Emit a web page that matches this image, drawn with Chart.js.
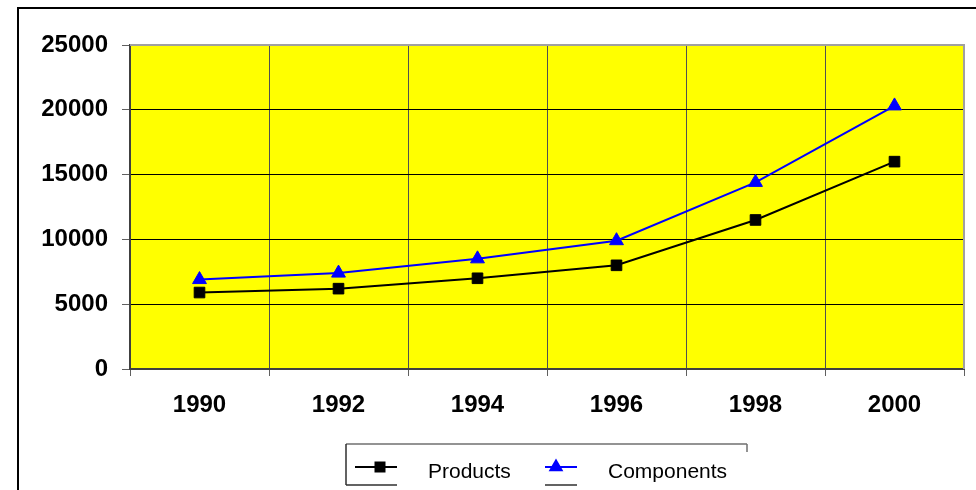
<!DOCTYPE html>
<html>
<head>
<meta charset="utf-8">
<script src="https://cdn.jsdelivr.net/npm/chart.js@4"></script>
<style>
  html, body { margin: 0; padding: 0; background: #fff; }
  canvas { display: block; }
</style>
</head>
<body>
<canvas id="c" width="976" height="490"></canvas>
<script>
// Annual volumes, 1990–2000
const years = ['1990', '1992', '1994', '1996', '1998', '2000'];
const products = [5900, 6200, 7000, 8000, 11500, 16000];
const components = [6900, 7400, 8500, 9900, 14400, 20300];
const yTicks = [0, 5000, 10000, 15000, 20000, 25000];

const tickFont = { family: '"Liberation Sans", Arial, sans-serif', size: 24, weight: 'bold' };

// Yellow plot background, grey plot frame and the outer chart frame
const frame = {
  id: 'frame',
  beforeDraw(chart) {
    const { ctx, chartArea: a } = chart;
    ctx.save();
    ctx.fillStyle = '#ffffff';
    ctx.fillRect(0, 0, chart.width, chart.height);
    ctx.strokeStyle = '#000';
    ctx.lineWidth = 2;
    ctx.strokeRect(18, 8, 2000, 2000);
    ctx.fillStyle = '#ffff00';
    ctx.fillRect(a.left, a.top, a.right - a.left, a.bottom - a.top);
    ctx.restore();
  },
  beforeDatasetsDraw(chart) {
    const { ctx, chartArea: a } = chart;
    ctx.save();
    ctx.strokeStyle = '#a0a0a0';
    ctx.lineWidth = 2;
    ctx.beginPath();
    ctx.moveTo(a.left, a.top);
    ctx.lineTo(a.right, a.top);
    ctx.lineTo(a.right, a.bottom);
    ctx.stroke();
    ctx.restore();
  }
};

// Legend box below the plot, with line + marker samples
const legendBox = {
  id: 'legendBox',
  afterDraw(chart) {
    const { ctx } = chart;
    ctx.save();
    ctx.lineWidth = 1.5;
    ctx.strokeStyle = '#707070';
    ctx.beginPath();
    ctx.moveTo(346, 444); ctx.lineTo(747, 444);
    ctx.moveTo(747, 444); ctx.lineTo(747, 452);
    ctx.stroke();
    ctx.strokeStyle = '#303030';
    ctx.beginPath();
    ctx.moveTo(346, 444); ctx.lineTo(346, 485);
    ctx.moveTo(346, 485); ctx.lineTo(397, 485);
    ctx.moveTo(545, 485); ctx.lineTo(577, 485);
    ctx.stroke();

    const entries = [
      { ds: chart.data.datasets[0], x0: 355, x1: 397, mx: 380, tx: 428 },
      { ds: chart.data.datasets[1], x0: 545, x1: 577, mx: 556, tx: 608 }
    ];
    const y = 467;
    entries.forEach(e => {
      ctx.strokeStyle = e.ds.borderColor;
      ctx.lineWidth = 2;
      ctx.beginPath();
      ctx.moveTo(e.x0, y); ctx.lineTo(e.x1, y);
      ctx.stroke();
      ctx.fillStyle = e.ds.pointBackgroundColor;
      ctx.beginPath();
      if (e.ds.pointStyle === 'rect') {
        ctx.rect(e.mx - 5.5, y - 5.5, 11, 11);
      } else {
        const r = 8.5;
        ctx.moveTo(e.mx, y - r);
        ctx.lineTo(e.mx + r * 0.866, y + r / 2);
        ctx.lineTo(e.mx - r * 0.866, y + r / 2);
        ctx.closePath();
      }
      ctx.fill();
      ctx.fillStyle = '#000';
      ctx.font = '21px "Liberation Sans", Arial, sans-serif';
      ctx.textBaseline = 'alphabetic';
      ctx.textAlign = 'left';
      ctx.fillText(e.ds.label, e.tx, 478);
    });
    ctx.restore();
  }
};

new Chart(document.getElementById('c'), {
  type: 'line',
  data: {
    labels: years,
    datasets: [
      {
        label: 'Products',
        data: products,
        borderColor: '#000000',
        backgroundColor: '#000000',
        borderWidth: 2,
        pointStyle: 'rect',
        pointRadius: 7.5,
        pointBackgroundColor: '#000000',
        pointBorderColor: '#000000',
        pointBorderWidth: 1,
        tension: 0
      },
      {
        label: 'Components',
        data: components,
        borderColor: '#0000ff',
        backgroundColor: '#0000ff',
        borderWidth: 2,
        pointStyle: 'triangle',
        pointRadius: 8,
        pointBackgroundColor: '#0000ff',
        pointBorderColor: '#0000ff',
        pointBorderWidth: 1,
        tension: 0
      }
    ]
  },
  options: {
    responsive: false,
    devicePixelRatio: 1,
    animation: false,
    layout: { padding: { top: 45, right: 12, left: 0, bottom: 0 } },
    plugins: { legend: { display: false }, tooltip: { enabled: false } },
    scales: {
      x: {
        type: 'category',
        offset: true,
        grid: { offset: true, color: '#505050', tickColor: '#606060', lineWidth: 1, tickLength: 7 },
        border: { color: '#404040', width: 2 },
        ticks: { color: '#000', font: tickFont, padding: 15, maxRotation: 0 },
        afterFit(s) { s.height = 121; }
      },
      y: {
        min: 0,
        max: 25000,
        afterBuildTicks(s) { s.ticks = yTicks.map(v => ({ value: v })); },
        grid: { color: '#000', tickColor: '#606060', lineWidth: 1, tickLength: 8 },
        border: { color: '#404040', width: 2 },
        ticks: { color: '#000', font: tickFont, padding: 14, callback: v => String(v) },
        afterFit(s) { s.width = 130; }
      }
    }
  },
  plugins: [frame, legendBox]
});
</script>
</body>
</html>
